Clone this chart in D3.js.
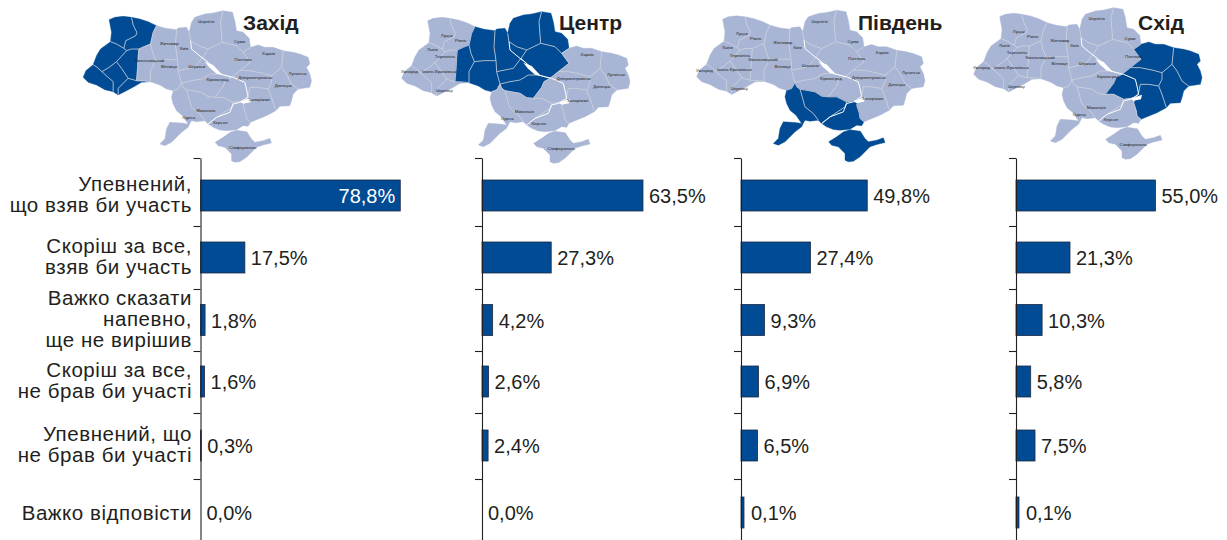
<!DOCTYPE html>
<html>
<head>
<meta charset="utf-8">
<script src="https://cdn.jsdelivr.net/npm/d3@7"></script>
<style>
html, body { margin: 0; padding: 0; background: #fff; overflow: hidden; }
text { font-family: "Liberation Sans", Arial, sans-serif; fill: #231f20; }
</style>
</head>
<body>
<div id="chart"></div>
<script>
// values
var categories = [
    ["Упевнений,", "що взяв би участь"],
    ["Скоріш за все,", "взяв би участь"],
    ["Важко сказати", "напевно,", "ще не вирішив"],
    ["Скоріш за все,", "не брав би участі"],
    ["Упевнений, що", "не брав би участі"],
    ["Важко відповісти"]
];
var panelTitles = ["Захід", "Центр", "Південь", "Схід"];
var zakhid = [78.8, 17.5, 1.8, 1.6, 0.3, 0.0];
var tsentr = [63.5, 27.3, 4.2, 2.6, 2.4, 0.0];
var pivden = [49.8, 27.4, 9.3, 6.9, 6.5, 0.1];
var skhid  = [55.0, 21.3, 10.3, 5.8, 7.5, 0.1];
var panelValues = [zakhid, tsentr, pivden, skhid];

// which oblasts are dark on each map
var zakhidOblasts = ["Луцьк", "Рівно", "Львів", "Тернопіль", "Ужгород", "Івано-Франківськ", "Чернівці"];
var tsentrOblasts = ["Хмельницький", "Вінниця", "Житомир", "Київ", "Черкаси", "Чернігів", "Суми", "Полтава", "Кіровоград"];
var pivdenOblasts = ["Одеса", "Миколаїв", "Херсон", "Сімферополь"];
var skhidOblasts  = ["Харків", "Луганськ", "Донецьк", "Дніпропетровськ", "Запоріжжя"];
var panelOblasts = [zakhidOblasts, tsentrOblasts, pivdenOblasts, skhidOblasts];

// map traced by hand, as shared arcs so that neighbours always meet
var outerArcs = {
    oVolyn: [[102,128],[105,100],[98,62],[115,55],[140,52],[165,55]],
    oRivne: [[165,55],[190,60],[215,68],[240,80]],
    oLviv: [[102,128],[72,150],[60,170],[50,197]],
    oZak: [[110,278],[85,272],[60,258],[35,250],[20,235],[28,215],[50,197]],
    oIf: [[125,288],[110,278]],
    oChe: [[222,248],[195,250],[175,262],[150,275],[125,288]],
    oZhyt: [[240,80],[268,88],[300,92]],
    oVin: [[290,275],[270,270],[250,258],[222,248]],
    oKyiv: [[300,92],[305,87],[330,85],[338,100]],
    oChern: [[338,100],[345,70],[355,55],[385,45],[410,42],[440,35]],
    oSumy: [[440,35],[468,40],[475,65],[480,95],[500,100],[518,118],[522,145]],
    oKhar: [[522,145],[545,138],[565,145],[590,145],[620,155]],
    oLuh: [[620,155],[650,160],[670,165],[695,175],[700,195],[690,205],[700,225],[705,245],[700,265],[665,270]],
    oDon: [[665,270],[650,285],[645,305],[640,320],[610,322],[598,335]],
    oZap: [[598,335],[570,350],[522,370]],
    oKher: [[522,370],[515,382],[500,380],[480,392],[450,395],[430,393],[410,385],[395,375]],
    oMyk: [[395,375],[385,365]],
    oOde: [[385,365],[360,368],[345,365],[338,378],[335,385],[315,400],[300,415],[285,430],[265,440],[250,435],[265,420],[270,390],[280,370],[315,372],[335,375],[318,350],[300,335],[290,315],[285,295],[290,275]],
    oKrym: [[416,430],[440,415],[461,400],[480,394],[511,398],[525,420],[535,430],[560,425],[580,418],[585,432],[560,438],[540,445],[525,460],[510,475],[490,488],[475,490],[465,485],[465,465],[445,445],[425,440],[416,430]]
};
var innerArcs = {
    vr: [[165,55],[170,78],[181,100],[178,110],[148,125],[142,148]],
    vl: [[142,148],[120,135],[102,128]],
    rz: [[240,80],[230,100],[222,135]],
    rkh: [[222,135],[205,142],[187,150]],
    rt: [[187,150],[165,150],[150,155]],
    rl: [[150,155],[142,148]],
    lt: [[150,155],[135,172],[120,188]],
    lz: [[50,197],[62,205],[76,218]],
    lif: [[76,218],[98,205],[120,188]],
    tif: [[120,188],[135,208],[155,238]],
    tch: [[155,238],[180,245]],
    tkh: [[187,150],[185,175],[183,210],[180,245]],
    zif: [[76,218],[95,235],[110,248],[110,278]],
    ifch: [[155,238],[125,268],[125,288]],
    chkh: [[180,245],[205,246],[222,248]],
    khv: [[222,248],[222,215],[238,185]],
    khz: [[238,185],[228,160],[222,135]],
    zv: [[238,185],[265,182],[303,182]],
    zk: [[300,92],[297,140],[303,182]],
    kv: [[303,182],[305,215]],
    chv: [[305,215],[310,235],[315,252]],
    vo: [[315,252],[305,270],[290,275]],
    kch: [[338,100],[342,125],[365,140],[395,150]],
    kp: [[395,150],[385,165],[378,175]],
    kc: [[378,175],[355,205],[305,215]],
    cp: [[378,175],[405,200],[430,225]],
    ck: [[315,252],[345,245],[375,240],[400,225],[430,225]],
    pk: [[430,225],[465,235]],
    kd: [[415,295],[440,262],[447,245],[465,235]],
    km: [[330,272],[375,280],[395,293],[415,295]],
    ok: [[315,252],[320,265],[330,272]],
    om: [[330,272],[338,300],[345,325],[370,345],[385,365]],
    cs: [[440,35],[432,65],[437,130]],
    pc: [[437,130],[395,150]],
    ps: [[500,160],[480,140],[437,130]],
    sk: [[500,160],[522,145]],
    pkh: [[490,215],[522,190],[500,160]],
    pd: [[465,235],[490,215]],
    kl: [[620,155],[615,205]],
    kdn: [[615,205],[585,230]],
    khd: [[585,230],[555,222],[520,215],[490,215]],
    ld: [[615,205],[630,225],[645,255],[665,270]],
    dz: [[598,335],[590,310],[585,295],[575,270]],
    dd: [[575,270],[585,250],[585,230]],
    dnz: [[575,270],[545,265],[520,265],[515,290],[505,305]],
    dnh: [[505,305],[470,310]],
    dnm: [[470,310],[440,295],[415,295]],
    zh: [[505,305],[500,320],[508,345],[510,360],[522,370]],
    hm: [[470,310],[465,325],[420,355],[395,375]]
};
// name, label position, arcs of the ring ("-" walks an arc backwards)
var oblastShapes = [
    ["Луцьк", [155,105], ["oVolyn","vr","vl"]],
    ["Рівно", [197,120], ["oRivne","rz","rkh","rt","rl","-vr"]],
    ["Львів", [112,147], ["-vl","-rl","lt","-lif","-lz","-oLviv"]],
    ["Тернопіль", [150,170], ["-rt","tkh","-tch","-tif","-lt"]],
    ["Ужгород", [43,215], ["lz","zif","oZak"]],
    ["Івано-Франківськ", [133,213], ["lif","tif","ifch","oIf","-zif"]],
    ["Чернівці", [148,270], ["tch","chkh","oChe","-ifch"]],
    ["Хмельницький", [219,183], ["-tkh","-rkh","-khz","-khv","-chkh"]],
    ["Житомир", [278,133], ["-rz","oZhyt","zk","-zv","khz"]],
    ["Вінниця", [278,203], ["zv","kv","chv","vo","oVin","khv"]],
    ["Київ", [323,148], ["oKyiv","kch","kp","kc","-kv","-zk"]],
    ["Черкаси", [361,201], ["-kc","cp","-ck","-chv"]],
    ["Кіровоград", [423,240], ["ck","pk","-kd","-km","-ok"]],
    ["Чернігів", [389,68], ["oChern","cs","pc","-kch"]],
    ["Суми", [489,128], ["oSumy","-sk","ps","-cs"]],
    ["Полтава", [500,181], ["-pc","-ps","-pkh","-pd","-pk","-cp","-kp"]],
    ["Харків", [576,163], ["sk","oKhar","kl","kdn","khd","pkh"]],
    ["Луганськ", [663,223], ["oLuh","-ld","-kl"]],
    ["Донецьк", [620,258], ["-kdn","ld","oDon","dz","dd"]],
    ["Дніпропетровськ", [536,236], ["pd","-khd","-dd","dnz","dnh","dnm","kd"]],
    ["Запоріжжя", [548,300], ["-dnz","-dz","oZap","-zh"]],
    ["Херсон", [431,369], ["-dnh","zh","oKher","-hm"]],
    ["Миколаїв", [388,335], ["km","-dnm","hm","oMyk","-om"]],
    ["Одеса", [337,355], ["-vo","ok","om","oOde"]],
    ["Сімферополь", [499,444], ["oKrym"]]
];
var dniproRiver = [[342,125],[345,150],[375,175],[395,190],[430,225],[470,235],[505,250],[510,270],[515,295],[490,310],[470,315],[460,340],[420,355],[395,375]];
var reservoirs = [
    [[385,188],[410,198],[438,228],[420,224],[398,205]],
    [[490,308],[525,296],[522,310],[500,314]]
];

// layout of the sheet
var panelAxisX = [200.5, 482, 741, 1016];
var panelMapX = [76.5, 395, 690, 967];
var panelMapY = [-1, 0, -1.5, -4];
var panelTitleX = [243, 559, 858, 1138];
var rowCentres = [195.5, 257.5, 320, 381.5, 445.5, 512.5];
var rowTicks = [158, 226, 289, 351, 413, 479, 540];

var svg = d3.select("#chart")
    .append("svg")
    .attr("width", 1227)
    .attr("height", 540);

var x = d3.scaleLinear().domain([0, 100]).range([0, 253.5]);
var y = d3.scaleOrdinal().domain(d3.range(categories.length)).range(rowCentres);
var tickScale = d3.scaleOrdinal().domain(d3.range(rowTicks.length)).range(rowTicks);
var barHeight = 31;

var mapX = d3.scaleLinear().domain([0, 3]).range([0, 1]);
var mapY = d3.scaleLinear().domain([0, 3]).range([0, 1]);
var line = d3.line().x(d => mapX(d[0])).y(d => mapY(d[1]));

var allArcs = Object.assign({}, outerArcs, innerArcs);

function ringOf(names) {
    var pts = [];
    names.forEach(function(n) {
        var arc = n[0] == "-" ? allArcs[n.slice(1)].slice().reverse() : allArcs[n];
        pts = pts.concat(arc);
    });
    return line(pts) + "Z";
}

// the sheet draws the 0,1 bars wider than their value, and pushes the label out
function barWidth(d) {
    return d > 0 && d < 0.2 ? 3 : x(d);
}
function labelGap(d) {
    return d > 0 && d < 0.2 ? 7 : 6;
}

// category labels, to the left of the first axis
var rowLabels = svg.append("g").selectAll("g")
    .data(categories)
    .enter().append("g");

rowLabels.selectAll("text")
    .data((d, i) => d.map((text, k) => ({text: text, k: k, n: d.length, row: i})))
    .enter().append("text")
    .attr("x", 192)
    .attr("y", d => y(d.row) + (d.n == 1 ? 7.5 : 6) + (d.k - (d.n - 1) / 2) * 21)
    .attr("text-anchor", "end")
    .style("font-size", "20.5px")
    .style("letter-spacing", "0.55px")
    .text(d => d.text);

panelTitles.forEach(function(title, p) {
    var values = panelValues[p];
    var dark = panelOblasts[p];

    // map
    var map = svg.append("g")
        .attr("transform", "translate(" + panelMapX[p] + "," + panelMapY[p] + ")");

    map.selectAll(".oblast")
        .data(oblastShapes)
        .enter().append("path")
        .attr("class", "oblast")
        .attr("d", d => ringOf(d[2]))
        .style("fill", d => dark.indexOf(d[0]) >= 0 ? "#004b93" : "#a9b5d5")
        .style("stroke", d => dark.indexOf(d[0]) >= 0 ? "#004b93" : "#a9b5d5")
        .style("stroke-width", 0.4);

    map.selectAll(".border")
        .data(Object.values(innerArcs))
        .enter().append("path")
        .attr("class", "border")
        .attr("d", line)
        .style("fill", "none")
        .style("stroke", "#cbd0da")
        .style("stroke-width", 0.8);

    map.append("path")
        .attr("d", line(dniproRiver))
        .style("fill", "none")
        .style("stroke", "#fff")
        .style("stroke-width", 1);

    map.selectAll(".reservoir")
        .data(reservoirs)
        .enter().append("path")
        .attr("class", "reservoir")
        .attr("d", d => line(d) + "Z")
        .style("fill", "#fff");

    map.selectAll(".city")
        .data(oblastShapes.filter(d => dark.indexOf(d[0]) < 0))
        .enter().append("text")
        .attr("class", "city")
        .attr("x", d => mapX(d[1][0]))
        .attr("y", d => mapY(d[1][1]) + 1.5)
        .attr("text-anchor", "middle")
        .style("font-size", "4.4px")
        .text(d => d[0]);

    svg.append("text")
        .attr("x", panelTitleX[p])
        .attr("y", 30)
        .style("font-size", "21px")
        .style("font-weight", "bold")
        .text(title);

    // bars
    var g = svg.append("g")
        .attr("transform", "translate(" + panelAxisX[p] + ",0)");

    g.selectAll(".bar")
        .data(values)
        .enter().append("rect")
        .attr("class", "bar")
        .attr("x", 0)
        .attr("y", (d, i) => y(i) - barHeight / 2)
        .attr("width", barWidth)
        .attr("height", barHeight)
        .style("fill", "#004b93")
        .style("stroke", "#1d2a44")
        .style("stroke-width", d => d > 0 ? 0.8 : 0);

    g.selectAll(".value")
        .data(values)
        .enter().append("text")
        .attr("class", "value")
        .attr("x", d => d > 70 ? x(d) - 5 : barWidth(d) + labelGap(d))
        .attr("y", (d, i) => y(i) + 7.5)
        .attr("text-anchor", d => d > 70 ? "end" : "start")
        .style("font-size", "20px")
        .style("fill", d => d > 70 ? "#fff" : "#231f20")
        .text(d => d.toFixed(1).replace(".", ",") + "%");

    var axis = g.append("g")
        .call(d3.axisLeft(tickScale).tickSizeInner(7).tickSizeOuter(0).tickFormat(""));
    axis.selectAll("path, line").style("stroke", "#231f20").style("stroke-width", 1.1);
});
</script>
</body>
</html>
